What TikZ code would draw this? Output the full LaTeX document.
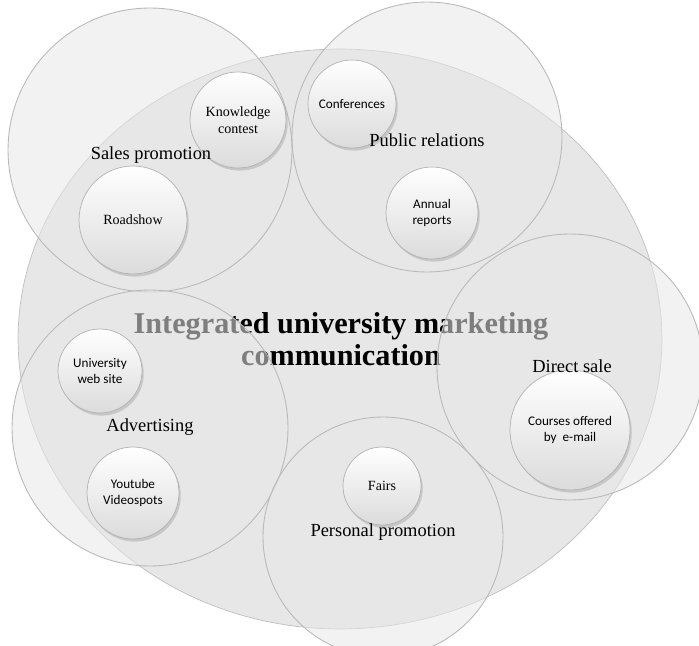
\documentclass[tikz,border=0pt]{standalone}
\usepackage{fontspec}
\setmainfont{Liberation Serif}
\newfontfamily\calibrilike{Carlito}
\usetikzlibrary{shapes.geometric,shadows}
\tikzset{
        bigoval/.style={ellipse, draw=gray!50, line width=0.4pt, fill=gray!19, inner sep=0pt},
        title/.style={align=center, font=\fontsize{17.2}{18.4}\selectfont\bfseries, text=black},
        group/.style={circle, draw=gray!55, line width=0.5pt, fill=gray!19, fill opacity=0.55, inner sep=0pt},
        grouptext/.style={font=\fontsize{10.5}{12}\selectfont, inner sep=1pt},
        item/.style={circle, draw=gray!60, line width=0.4pt, top color=white, bottom color=gray!28, inner sep=0pt, align=center,
          drop shadow={shadow xshift=1pt, shadow yshift=-1.5pt, fill=gray!80, opacity=0.4}, font=\fontsize{8}{9.5}\selectfont},
        itemsans/.style={item, font=\calibrilike\fontsize{7.5}{9}\selectfont}
          }
\begin{document}
\begin{tikzpicture}[x=0.02cm, y=-0.02cm]
        \useasboundingbox (0,0) rectangle (699,645);
        \node[bigoval, minimum width=12.88cm, minimum height=11.6cm] (imc) at (340,339) {};
        \node[title] (imctext) at (341,339) {Integrated university marketing\\communication};
        \node[group, minimum size=5.68cm] (sales) at (150,150) {};
        \node[group, minimum size=5.4cm] (pr) at (427,137) {};
        \node[group, minimum size=5.32cm] (direct) at (570,367) {};
        \node[group, minimum size=5.52cm] (adv) at (150,428) {};
        \node[group, minimum size=4.8cm] (personal) at (383,537) {};
        \node[item, minimum size=1.92cm] (contest) at (238,120) {Knowledge\\contest};
        \node[item, minimum size=2.16cm] (roadshow) at (133,220) {Roadshow};
        \node[itemsans, minimum size=1.76cm] (conf) at (352,104) {Conferences};
        \node[itemsans, minimum size=1.84cm] (annual) at (432,213) {Annual\\reports};
        \node[itemsans, minimum size=1.68cm] (web) at (100,371) {University\\web site};
        \node[itemsans, minimum size=1.84cm] (youtube) at (133,493) {Youtube\\Videospots};
        \node[item, minimum size=1.56cm] (fairs) at (382,486) {Fairs};
        \node[itemsans, minimum size=2.4cm] (email) at (570,430) {Courses offered\\by\ \ e-mail};
        \node[grouptext] (salestext) at (151,155) {Sales promotion};
        \node[grouptext] (prtext) at (427,140) {Public relations};
        \node[grouptext] (directtext) at (572,366) {Direct sale};
        \node[grouptext] (advtext) at (150,427) {Advertising};
        \node[grouptext] (personaltext) at (383,532) {Personal promotion};
      \end{tikzpicture}
\end{document}
